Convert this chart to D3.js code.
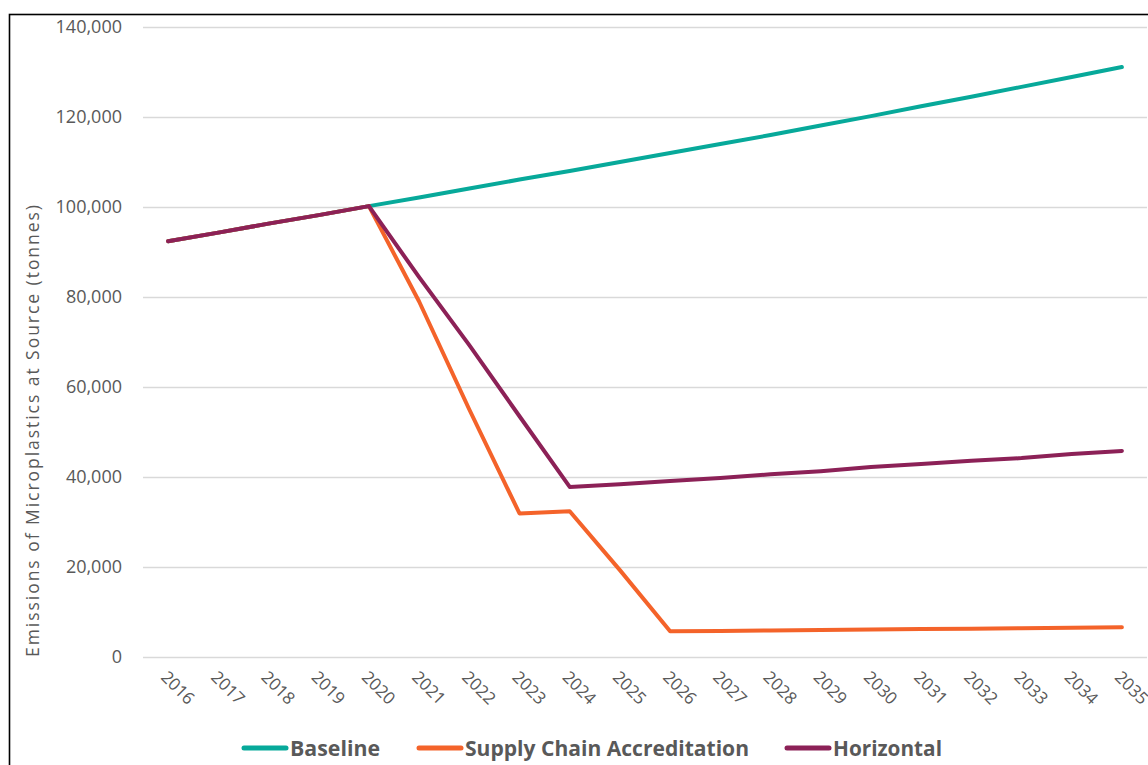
<!DOCTYPE html>
<html>
<head>
<meta charset="utf-8">
<script src="https://cdn.jsdelivr.net/npm/d3@7"></script>
<style>
  html, body { margin: 0; padding: 0; background: #fff; }
  svg { display: block; }
</style>
</head>
<body>
<script>
// years on the category axis
const years = ['2016','2017','2018','2019','2020','2021','2022','2023','2024','2025',
               '2026','2027','2028','2029','2030','2031','2032','2033','2034','2035']

// emissions of microplastics at source (tonnes)
const baseline = [92400, 94300, 96300, 98200, 100200, 102100, 104100, 106100, 108000, 110000,
                  112000, 114000, 116000, 118100, 120200, 122400, 124500, 126700, 128900, 131100]
const supplyChain = [92400, 94300, 96300, 98200, 100200, 79000, 55000, 31900, 32400, 19300,
                     5700, 5800, 5900, 6000, 6100, 6200, 6300, 6400, 6500, 6600]
const horizontal = [92400, 94300, 96300, 98200, 100200, 84400, 69300, 53500, 37800, 38400,
                    39100, 39800, 40600, 41300, 42200, 42900, 43600, 44200, 45100, 45800]

const yTicks = [0, 20000, 40000, 60000, 80000, 100000, 120000, 140000]

const seriesNames = ['Baseline', 'Supply Chain Accreditation', 'Horizontal']
const seriesColors = ['#07A99A', '#F4632A', '#8C2157']

const W = 1148, H = 765
const margin = { top: 27, right: 1, bottom: 108, left: 143 }

const svg = d3.select('body').append('svg')
    .attr('width', W)
    .attr('height', H)

// outer frame of the chart area (cut off at right and bottom)
svg.append('rect')
    .attr('x', 9.5).attr('y', 14.5)
    .attr('width', W + 20).attr('height', H + 20)
    .attr('fill', 'none')
    .attr('stroke', '#000')
    .attr('stroke-width', 1.6)

const x = d3.scaleBand().domain(years).range([margin.left, W - margin.right])
const y = d3.scaleLinear().domain([0, 140000]).range([H - margin.bottom, margin.top])
const cx = d => x(d) + x.bandwidth() / 2

const font = "'Open Sans', 'Noto Sans', sans-serif"

// gridlines + y labels
svg.append('g')
    .attr('transform', `translate(${margin.left},0)`)
    .call(d3.axisLeft(y).tickValues(yTicks).tickSize(-(W - margin.right - margin.left)).tickPadding(21)
        .tickFormat(d3.format(',')))
    .call(g => g.select('.domain').remove())
    .call(g => g.selectAll('.tick line').attr('stroke', '#D9D9D9').attr('stroke-width', 1.5))
    .call(g => g.selectAll('.tick text')
        .attr('fill', '#595959')
        .style('font-family', font)
        .style('font-size', '18px'))

// x labels, rotated (the last one runs off the right edge, as in the original)
svg.append('g')
    .selectAll('text')
    .data(years)
    .join('text')
    .attr('transform', d => `translate(${cx(d) - 4},${H - margin.bottom + 17}) rotate(45)`)
    .attr('dy', '0.35em')
    .attr('fill', '#595959')
    .style('font-family', font)
    .style('font-size', '17px')
    .text(d => d)

// y axis title
svg.append('text')
    .attr('transform', `translate(39,431) rotate(-90)`)
    .attr('text-anchor', 'middle')
    .attr('fill', '#595959')
    .attr('textLength', 452)
    .attr('lengthAdjust', 'spacing')
    .style('font-family', font)
    .style('font-size', '17.5px')
    .text('Emissions of Microplastics at Source (tonnes)')

const line = d3.line()
    .x((d, i) => cx(years[i]))
    .y(d => y(d))

const allSeries = [baseline, supplyChain, horizontal]
svg.append('g')
    .selectAll('path')
    .data(allSeries)
    .join('path')
    .attr('d', d => line(d))
    .attr('fill', 'none')
    .attr('stroke', (d, i) => seriesColors[i])
    .attr('stroke-width', 4)
    .attr('stroke-linecap', 'round')
    .attr('stroke-linejoin', 'round')

// legend
const legend = svg.append('g').attr('transform', `translate(0,748)`)
const legendX = [242, 417, 785]
const legendTextW = [90, 284, 109]
seriesNames.forEach((name, i) => {
    const g = legend.append('g').attr('transform', `translate(${legendX[i]},0)`)
    g.append('line')
        .attr('x1', 2).attr('x2', 44)
        .attr('stroke', seriesColors[i])
        .attr('stroke-width', 5)
        .attr('stroke-linecap', 'round')
    g.append('text')
        .attr('x', 48)
        .attr('dy', '0.36em')
        .attr('fill', '#595959')
        .attr('textLength', legendTextW[i])
        .attr('lengthAdjust', 'spacingAndGlyphs')
        .style('font-family', font)
        .style('font-weight', 'bold')
        .style('font-size', '21px')
        .text(name)
})
</script>
</body>
</html>
